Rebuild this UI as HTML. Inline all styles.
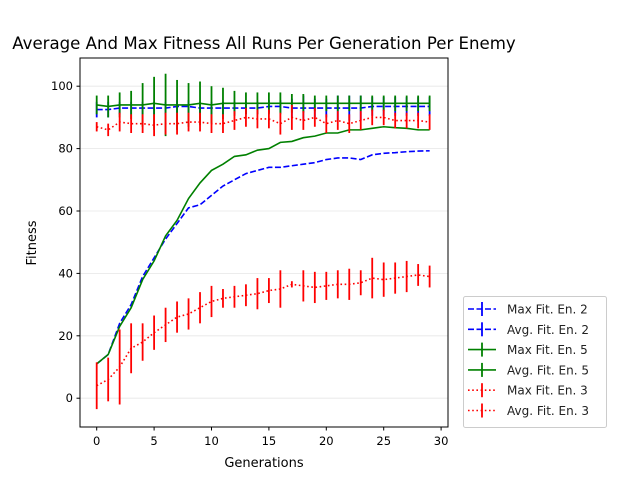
<!DOCTYPE html>
<html><head><meta charset="utf-8"><style>
body{margin:0;background:#fff;font-family:"DejaVu Sans","Liberation Sans",sans-serif}
svg{display:block}
</style></head><body>
<svg id="chart" width="640" height="480" xmlns="http://www.w3.org/2000/svg" font-family="DejaVu Sans, Liberation Sans, sans-serif">
<rect width="640" height="480" fill="#fff"/>
<text x="264" y="49" text-anchor="middle" font-size="16.6" fill="#000">Average And Max Fitness All Runs Per Generation Per Enemy</text>
<g id="grid"></g>
<g id="marks"></g>
<rect x="80" y="58" width="368" height="369" fill="none" stroke="#000" stroke-width="1"/>
<g id="axes"></g>
<text x="264" y="467" text-anchor="middle" font-size="13">Generations</text>
<text transform="translate(36,243) rotate(-90)" text-anchor="middle" font-size="13">Fitness</text>
<g id="legend"></g>
</svg>
<script>
const generations=[0,1,2,3,4,5,6,7,8,9,10,11,12,13,14,15,16,17,18,19,20,21,22,23,24,25,26,27,28,29];
const maxEn2=[92.5,92.5,93,93,93,93,93,93.5,93.5,93,93,93,93,93,93,93.5,93.5,93,93,93,93,93,93,93,93.5,93.5,93.5,93.5,93.5,93.5];
const maxEn2Err=[2.5,2.5,2,2,2,2,2,2,2,2,2,2,2,2,2,2,2,3,4,3,3,4,4,4,3,3,3,3,3,3];
const avgEn2=[11,14,24,30,39,45,51,56,61,62,65,68,70,72,73,74,74,74.5,75,75.5,76.5,77,77,76.5,78,78.5,78.7,79,79.2,79.3];
const maxEn5=[94,93.5,94,94,94,94.5,94,94,94,94.5,94,94.5,94.5,94.5,94.5,94.5,94.5,94.5,94.5,94.5,94.5,94.5,94.5,94.5,94.5,94.5,94.5,94.5,94.5,94.5];
const maxEn5Err=[3,3.5,4,4.5,7,8.5,10,8,7,7,6,5,4,3.5,3.5,3.5,3.5,3,3,2.5,2.5,2.5,2.5,2.5,2.5,2.5,2.5,2.5,2.5,2.5];
const avgEn5=[11,14,23,29,38,44,52,57,64,69,73,75,77.5,78,79.5,80,82,82.3,83.5,84,85,85,86,86,86.5,87,86.7,86.5,86,86];
const maxEn3=[87,86,88.5,88,88,87.5,88,88,88.5,88.5,88,88,89,90,89.5,89.5,88,90,89,90,88,89,88,89,90,90,89,89,89,88.5];
const maxEn3Err=[1.5,2,3,3,3,3.5,3.5,3.5,3,3,3,3,3,3,3,3,3.5,4,3,3,3,3,3,3,2.5,2.5,2.5,2.5,2.5,2.5];
const avgEn3=[4,6,10,16,18,21,23.5,26,27,29,31,32,32.5,33,33.5,34.5,35,36.5,36,35.5,36,36.5,36.5,37,38.5,38,38.5,39,39.5,39];
const avgEn3Err=[7.5,7,12,8,6,5.5,5.5,5,5,5,5,3,3.5,3.5,5,4,6,1,5,5,4.5,4.5,5,4,6.5,5.5,5,5,3.5,3.5];
const xTicks=[0,5,10,15,20,25,30];
const yTicks=[0,20,40,60,80,100];
const NS="http://www.w3.org/2000/svg";
const X=v=>96.7+v*11.48, Y=v=>398.2-v*3.12;
function mk(p,t,a){const e=document.createElementNS(NS,t);for(const k in a)e.setAttribute(k,a[k]);p.appendChild(e);return e;}
const grid=document.getElementById('grid'),axes=document.getElementById('axes'),marks=document.getElementById('marks'),leg=document.getElementById('legend');
yTicks.forEach(v=>{
 const g=mk(grid,'line',{x1:80,x2:448,y1:Y(v),y2:Y(v),stroke:'#e6e6e6','stroke-width':0.8});
 
 
 mk(axes,'line',{x1:76.5,x2:80,y1:Y(v),y2:Y(v),stroke:'#000'});
 const t=mk(axes,'text',{x:73,y:Y(v)+4,'text-anchor':'end','font-size':11.5});t.textContent=v;
 
 
});
xTicks.forEach(v=>{
 mk(axes,'line',{x1:X(v),x2:X(v),y1:427,y2:430.5,stroke:'#000'});
 const t=mk(axes,'text',{x:X(v),y:445,'text-anchor':'middle','font-size':11.5});t.textContent=v;
 
 
});
function series(vals,errs,color,dash,name){
 const g=mk(marks,'g',{});
 
 
 if(errs)vals.forEach((v,i)=>{const l=mk(g,'line',{x1:X(generations[i]),x2:X(generations[i]),y1:Y(v-errs[i]),y2:Y(v+errs[i]),stroke:color,'stroke-width':1.8});
  
  });
 const p=mk(g,'polyline',{points:vals.map((v,i)=>X(generations[i])+','+Y(v)).join(' '),fill:'none',stroke:color,'stroke-width':1.6,'stroke-dasharray':dash});
 
 
}
series(maxEn2,maxEn2Err,'#0000ff','6,2.5','max-fit-en2');
series(avgEn2,null,'#0000ff','6,2.5','avg-fit-en2');
series(maxEn5,maxEn5Err,'#008000','','max-fit-en5');
series(avgEn5,null,'#008000','','avg-fit-en5');
series(maxEn3,maxEn3Err,'#ff0000','1.6,2.6','max-fit-en3');
series(avgEn3,avgEn3Err,'#ff0000','1.6,2.6','avg-fit-en3');
mk(leg,'rect',{x:463.5,y:296.5,width:143,height:131,rx:2,fill:'#fff',stroke:'#ccc'});
const labels=['Max Fit. En. 2','Avg. Fit. En. 2','Max Fit. En. 5','Avg. Fit. En. 5','Max Fit. En. 3','Avg. Fit. En. 3'];
const cols=['#0000ff','#0000ff','#008000','#008000','#ff0000','#ff0000'];
const dashes=['6,2.5','6,2.5','','','1.6,2.6','1.6,2.6'];
labels.forEach((s,i)=>{
 const y=309+i*20.3;
 const g=mk(leg,'g',{});
 
 
 mk(g,'line',{x1:468,x2:496,y1:y,y2:y,stroke:cols[i],'stroke-width':1.6,'stroke-dasharray':dashes[i]});
 mk(g,'line',{x1:482,x2:482,y1:y-7,y2:y+7,stroke:cols[i],'stroke-width':1.8});
 const t=mk(g,'text',{x:507,y:y+4.5,'font-size':12,fill:'#222'});t.textContent=s;
});
</script>
</body></html>
